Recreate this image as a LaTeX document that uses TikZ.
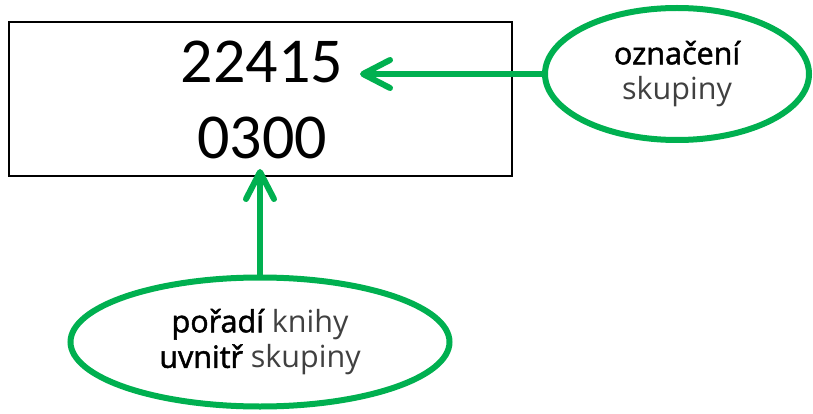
\documentclass[tikz,border=0pt]{standalone}
\usepackage{fontspec}
\setmainfont{Carlito}
\newfontfamily\popis{Open Sans}
\newfontfamily\popistucne[FakeBold=1.6]{Open Sans}
\newcommand{\zvyrazni}[1]{{\popistucne #1}}
\newcommand{\slabe}[1]{\textcolor{black!75}{#1}}
\usetikzlibrary{arrows.meta}
\usetikzlibrary{positioning}
\usetikzlibrary{shapes.geometric}
\definecolor{zelena}{HTML}{00B050}
\tikzset {
  % green connector with an open barb
  sipka/.style = {
    draw = zelena,
    line width = 6pt,
    line cap = round,
    -{Straight Barb[length = 27pt, width = 28pt, line cap = round, line join = round]}
  },
  % the call number box
  ramec/.style = {
    draw = black,
    line width = 2.6pt,
    rectangle,
    minimum width = 503pt,
    minimum height = 154pt
  },
  cislo/.style = {
    font = \fontsize{64}{70}\selectfont,
    inner sep = 0,
    anchor = base
  },
  % explaining bubble
  bublina/.style = {
    draw = zelena,
    line width = 6pt,
    ellipse,
    align = center,
    inner sep = 0,
    font = \popis\fontsize{30.5}{35.5}\selectfont
  }
}

\begin{document}
\begin{tikzpicture}[x = 1pt, y = -1pt]
  \useasboundingbox (0, 0) rectangle (813, 414);
  \node[ramec] at (260.5, 99) (kod) {};
  \node[cislo] at (262, 83) (skupina) {22415};
  \node[cislo] at (262, 159) (poradi) {0300};

  \node[bublina, minimum width = 264pt, minimum height = 132pt] at (677, 74) (oznaceni)
    {\zvyrazni{označení}\\\slabe{skupiny}};
  \node[bublina, minimum width = 379pt, minimum height = 129pt] at (260, 342) (uvnitr)
    {\zvyrazni{pořadí} \slabe{knihy}\\\zvyrazni{uvnitř} \slabe{skupiny}};

  \coordinate (hrot-skupina) at (360, 74);
  \coordinate (hrot-poradi) at (260, 169);

  \draw[sipka] (oznaceni.west) -- (hrot-skupina);
  \draw[sipka] (uvnitr.north) -- (hrot-poradi);
\end{tikzpicture}
\end{document}
